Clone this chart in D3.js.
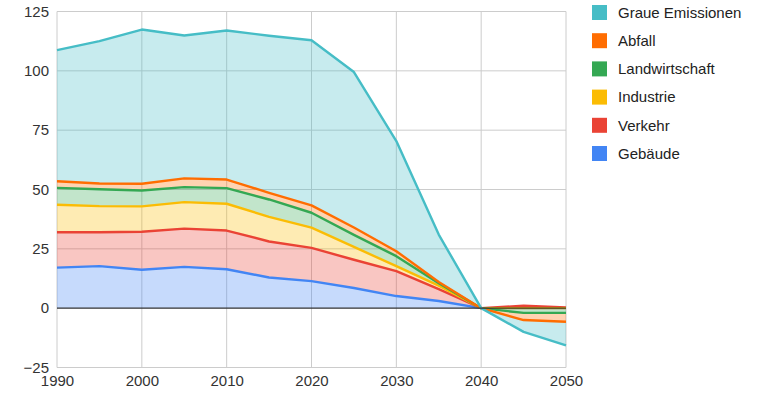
<!DOCTYPE html>
<html>
<head>
<meta charset="utf-8">
<script src="https://cdn.jsdelivr.net/npm/d3@7"></script>
<style>
  body { margin: 0; background: #fff; }
  text { font-family: Arial, "Liberation Sans", sans-serif; }
</style>
</head>
<body>
<svg id="chart"></svg>
<script>
const years = [1990, 1995, 2000, 2005, 2010, 2015, 2020, 2025, 2030, 2035, 2040, 2045, 2050];

// series values (Mt CO2-eq, stacked)
const gebaeude = [17.1, 17.7, 16.2, 17.4, 16.4, 12.9, 11.4, 8.5, 5.1, 3.0, 0, 0, 0];
const verkehr = [14.9, 14.3, 16.0, 16.1, 16.3, 15.2, 14.0, 11.9, 10.5, 5.0, 0, 1.0, 0.3];
const industrie = [11.6, 11.0, 10.7, 11.2, 11.3, 10.4, 8.5, 5.4, 2.1, 1.5, 0, 0, 0];
const landwirtschaft = [7.1, 7.1, 6.7, 6.3, 6.6, 7.3, 6.3, 5.1, 4.2, 1.0, 0, -2.0, -2.0];
const abfall = [2.8, 2.4, 2.8, 3.7, 3.6, 2.8, 3.1, 3.1, 2.1, 0.5, 0, -3.0, -3.7];
const graue = [55.2, 60.0, 65.0, 60.2, 62.8, 66.2, 69.6, 65.5, 46.4, 20.0, 0, -5.0, -10.0];

const seriesNames = ['Gebäude', 'Verkehr', 'Industrie', 'Landwirtschaft', 'Abfall', 'Graue Emissionen'];
const seriesValues = [gebaeude, verkehr, industrie, landwirtschaft, abfall, graue];
const colors = ['#4285F4', '#EA4335', '#FBBC04', '#34A853', '#FF6D01', '#46BDC6'];

const xTicks = [1990, 2000, 2010, 2020, 2030, 2040, 2050];
const yTicks = [-25, 0, 25, 50, 75, 100, 125];

const W = 768, H = 415;
const margin = { top: 11.5, right: 202, bottom: 47.5, left: 57 };

const svg = d3.select('#chart').attr('width', W).attr('height', H);

const x = d3.scaleLinear().domain([1990, 2050]).range([margin.left, W - margin.right]);
const y = d3.scaleLinear().domain([-25, 125]).range([H - margin.bottom, margin.top]);

// build table for the stack
const table = years.map((yr, i) => {
  const row = { year: yr };
  seriesNames.forEach((k, j) => { row[k] = seriesValues[j][i]; });
  return row;
});

const layers = d3.stack()
  .keys(seriesNames)
  .offset(d3.stackOffsetDiverging)(table);

// gridlines
svg.append('g')
  .selectAll('line')
  .data(yTicks.filter(d => d !== 0))
  .enter()
  .append('line')
  .attr('x1', x(1990)).attr('x2', x(2050))
  .attr('y1', d => y(d)).attr('y2', d => y(d))
  .attr('stroke', '#cccccc').attr('stroke-width', 1);

svg.append('g')
  .selectAll('line')
  .data(xTicks)
  .enter()
  .append('line')
  .attr('x1', d => x(d)).attr('x2', d => x(d))
  .attr('y1', y(125)).attr('y2', y(-25))
  .attr('stroke', '#cccccc').attr('stroke-width', 1);

const area = d3.area()
  .x(d => x(d.data.year))
  .y0(d => y(d[0]))
  .y1(d => y(d[1]));

// outer edge of each layer: top for positive values, bottom for negative ones
const lineFor = (layer) => d3.line()
  .x(d => x(d.data.year))
  .y(d => y(d.data[layer.key] < 0 ? d[0] : d[1]))(layer);

const plot = svg.append('g');

plot.selectAll('path.area')
  .data(layers)
  .enter()
  .append('path')
  .attr('class', 'area')
  .attr('d', area)
  .attr('fill', (d, i) => colors[i])
  .attr('fill-opacity', 0.3);

// zero baseline
svg.append('line')
  .attr('x1', x(1990)).attr('x2', x(2050))
  .attr('y1', y(0)).attr('y2', y(0))
  .attr('stroke', '#333333').attr('stroke-width', 1.2);

plot.selectAll('path.line')
  .data(layers)
  .enter()
  .append('path')
  .attr('class', 'line')
  .attr('d', lineFor)
  .attr('fill', 'none')
  .attr('stroke', (d, i) => colors[i])
  .attr('stroke-width', 2.4)
  .attr('stroke-linejoin', 'round');

// axes
const xAxis = svg.append('g')
  .attr('transform', `translate(0,${y(-25)})`)
  .call(d3.axisBottom(x).tickValues(xTicks).tickFormat(d3.format('d')).tickSize(0).tickPadding(8));
xAxis.select('.domain').remove();
xAxis.selectAll('text')
  .attr('dy', '0.71em')
  .style('font-size', '15px')
  .style('fill', '#333');

const yAxis = svg.append('g')
  .attr('transform', `translate(${x(1990)},0)`)
  .call(d3.axisLeft(y).tickValues(yTicks).tickSize(0).tickPadding(8));
yAxis.select('.domain').remove();
yAxis.selectAll('text')
  .style('font-size', '15px')
  .style('fill', '#333');

// legend, top to bottom in reversed stack order
const legend = svg.append('g').attr('transform', 'translate(592, 5)');
const legendOrder = d3.range(seriesNames.length).reverse();
legendOrder.forEach((idx, row) => {
  legend.append('rect')
    .attr('x', 0)
    .attr('y', row * 28.2)
    .attr('width', 15)
    .attr('height', 15)
    .attr('fill', colors[idx]);
  legend.append('text')
    .attr('x', 26)
    .attr('y', row * 28.2 + 7.5)
    .attr('dy', '0.35em')
    .text(seriesNames[idx])
    .style('font-size', '15px')
    .style('fill', '#222');
});
</script>
</body>
</html>
